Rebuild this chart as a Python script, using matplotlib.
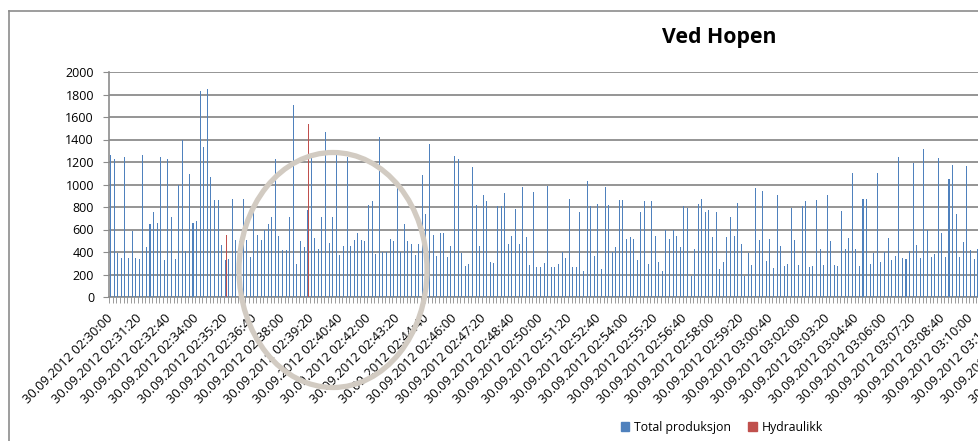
import matplotlib
matplotlib.use('Agg')
import matplotlib.pyplot as plt
from matplotlib.patches import Ellipse, Patch
from matplotlib.lines import Line2D
from datetime import datetime, timedelta

plt.rcParams['font.family'] = ['Open Sans', 'DejaVu Sans']

# samples every 10 s from 02:30:00, only the visible part of the sheet
total_produksjon = [
    1260, 1230, 395, 350, 1245, 350, 585, 350, 340, 1265,
    445, 650, 760, 660, 1245, 330, 1230, 710, 340, 995,
    1395, 410, 1095, 660, 680, 1830, 1335, 1850, 1070, 865,
    865, 460, 325, 340, 875, 505, 500, 875, 505, 360,
    755, 555, 505, 600, 645, 710, 1225, 545, 420, 420,
    710, 1705, 290, 495, 445, 770, 1235, 525, 425, 710,
    1465, 480, 715, 1270, 370, 455, 1245, 455, 505, 565,
    505, 495, 815, 855, 380, 1420, 400, 400, 520, 500,
    980, 400, 650, 495, 470, 370, 475, 1085, 740, 1360,
    555, 365, 565, 565, 360, 450, 1250, 1230, 395, 275,
    295, 1160, 815, 455, 905, 855, 315, 305, 810, 810,
    925, 475, 545, 780, 475, 980, 535, 285, 935, 270,
    270, 305, 985, 270, 270, 295, 400, 350, 870, 270,
    270, 760, 230, 1035, 810, 365, 830, 250, 980, 815,
    400, 445, 860, 865, 520, 535, 520, 325, 755, 855,
    295, 855, 540, 310, 230, 595, 520, 595, 545, 445,
    810, 795, 190, 430, 830, 875, 760, 770, 535, 760,
    250, 315, 535, 710, 540, 835, 475, 185, 395, 285,
    965, 510, 945, 320, 520, 255, 910, 450, 275, 295,
    790, 510, 285, 810, 855, 270, 280, 860, 430, 285,
    910, 500, 285, 280, 765, 430, 525, 1100, 425, 280,
    870, 870, 295, 390, 1105, 310, 400, 525, 330, 365,
    1245, 345, 335, 405, 1195, 460, 345, 1320, 595, 360,
    380, 1240, 570, 355, 1050, 1170, 735, 360, 485, 1165,
    420, 340, 425,
]
hydraulikk_idx = [32, 55]
hydraulikk_val = [550, 1540]

n = len(total_produksjon)
hydraulikk = [0] * n
for i, v in zip(hydraulikk_idx, hydraulikk_val):
    hydraulikk[i] = v

start = datetime(2012, 9, 30, 2, 30, 0)
label_pos = list(range(0, 272, 8))
labels = [(start + timedelta(seconds=10 * p)).strftime('%d.%m.%Y %H:%M:%S') for p in label_pos]

blue = '#4F81BD'
red = '#C0504D'
grey = '#8C8C8C'

fig = plt.figure(figsize=(9.79, 4.41), dpi=100)
cat_w = 3.583 / 979
ax = fig.add_axes([109.3 / 979, 144 / 441, 272 * cat_w, 225 / 441])

x = list(range(n))
bw = 1 / 3.5
ax.bar([i - bw / 2 for i in x], total_produksjon, width=bw, color=blue, linewidth=0, zorder=3)
ax.bar([i + bw / 2 for i in x], hydraulikk, width=bw, color=red, linewidth=0, zorder=3)

ax.set_xlim(-0.5, 271.5)
ax.set_ylim(0, 2000)
ax.set_yticks(range(0, 2001, 200))
ax.tick_params(axis='y', length=4, color=grey, labelsize=9, pad=7)
ax.yaxis.grid(True, color=grey, linewidth=1.3, zorder=0)
ax.set_axisbelow(True)

ax.set_xticks(label_pos)
ax.set_xticklabels(labels, rotation=45, ha='right', va='center', rotation_mode='anchor', fontsize=9.3)
ax.set_xticks([i - 0.5 for i in range(273)], minor=True)
ax.tick_params(axis='x', which='major', length=0, pad=13.5)
ax.tick_params(axis='x', which='minor', length=4, color=grey)

for s in ['top', 'right']:
    ax.spines[s].set_visible(False)
for s in ['left', 'bottom']:
    ax.spines[s].set_color(grey)
    ax.spines[s].set_linewidth(1.2)

# chart area border (left and top, the rest is cropped)
fig.add_artist(Line2D([9 / 979, 9 / 979], [0, 1 - 10.5 / 441], color=grey, lw=1.2))
fig.add_artist(Line2D([9 / 979, 1], [1 - 10.5 / 441, 1 - 10.5 / 441], color=grey, lw=1.2))

fig.text(719 / 979, 1 - 37 / 441, 'Ved Hopen', ha='center', va='center',
         fontsize=15.3, fontweight='bold')

handles = [Patch(color=blue, label='Total produksjon'), Patch(color=red, label='Hydraulikk')]
fig.legend(handles=handles, loc='center', bbox_to_anchor=(722 / 979, 1 - 427 / 441),
           ncol=2, frameon=False, fontsize=8.8, handlelength=0.7, handleheight=0.7,
           handletextpad=0.4, columnspacing=1.4)

ring = Ellipse((333 / 979, 1 - 270 / 441), 188 / 979, 235 / 441, transform=fig.transFigure,
               fill=False, edgecolor='#D2CBC2', linewidth=3.8, zorder=10)
fig.add_artist(ring)

fig.savefig('out.png', dpi=100)
